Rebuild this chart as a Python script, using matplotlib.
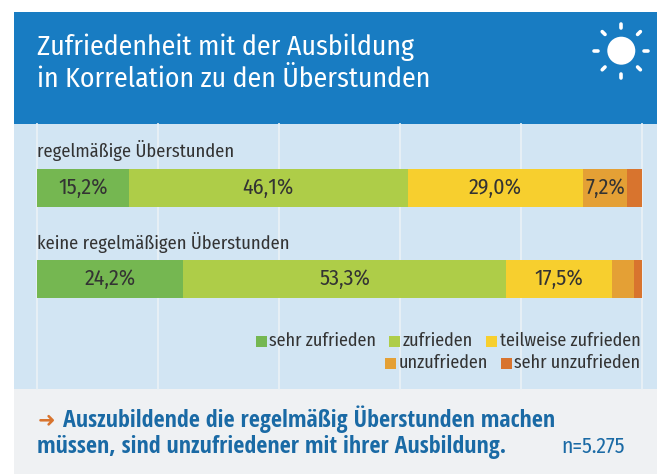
import numpy as np
import matplotlib
matplotlib.use('Agg')
import matplotlib.pyplot as plt
from matplotlib.patches import Rectangle, Circle
from matplotlib import font_manager as fm

available = set(f.name for f in fm.fontManager.ttflist)
regular_fonts = ['Fira Sans Condensed', 'PT Sans Narrow', 'Roboto Condensed',
                 'Liberation Sans Narrow', 'Open Sans', 'DejaVu Sans']
bold_fonts = ['Open Sans Condensed'] + regular_fonts
plt.rcParams['font.family'] = [c for c in regular_fonts if c in available]
bold_family = [c for c in bold_fonts if c in available]

title_lines = ['Zufriedenheit mit der Ausbildung', 'in Korrelation zu den Überstunden']
groups = ['regelmäßige Überstunden', 'keine regelmäßigen Überstunden']
levels = ['sehr zufrieden', 'zufrieden', 'teilweise zufrieden', 'unzufrieden', 'sehr unzufrieden']
row_regular = [15.2, 46.1, 29.0, 7.2, 2.5]
row_none = [24.2, 53.3, 17.5, 3.7, 1.3]
labels_regular = ['15,2%', '46,1%', '29,0%', '7,2%', '']
labels_none = ['24,2%', '53,3%', '17,5%', '', '']
grid_ticks = [0, 20, 40, 60, 80, 100]
takeaway = ['Auszubildende die regelmäßig Überstunden machen',
            'müssen, sind unzufriedener mit ihrer Ausbildung.']
sample = 'n=5.275'

colors = ['#75b751', '#aecd48', '#f7cf2e', '#e4a035', '#d8742e']
HEADER = '#187cc2'
PANEL = '#d2e5f3'
FOOT = '#eff1f3'
DARK = '#333333'
BLUE = '#1a6aa5'

W, H = 657, 474
fig = plt.figure(figsize=(W / 100, H / 100), dpi=100)


def pixel_axes(z):
    # whole figure in pixel coordinates
    a = fig.add_axes([0, 0, 1, 1], zorder=z)
    a.set_xlim(0, W)
    a.set_ylim(H, 0)
    a.axis('off')
    return a


bg = pixel_axes(0)
bg.add_patch(Rectangle((14, 12), W - 14, 112, color=HEADER, lw=0))
bg.add_patch(Rectangle((14, 124), W - 14, 265, color=PANEL, lw=0))
bg.add_patch(Rectangle((14, 389), W - 14, 85, color=FOOT, lw=0))

# bars, x is the percentage scale
ax = fig.add_axes([37 / W, 1 - 389 / H, 605 / W, 265 / H], zorder=1)
ax.set_xlim(0, 100)
ax.set_ylim(389, 124)
ax.axis('off')
for t in grid_ticks:
    ax.plot([t, t], [124, 389], color='#e9f1f6', lw=1.3, zorder=1, clip_on=False)

for y, vals, labs in [(188, row_regular, labels_regular), (279, row_none, labels_none)]:
    left = 0
    for v, c, lab in zip(vals, colors, labs):
        ax.barh(y, v, left=left, height=38, color=c, lw=0, zorder=2)
        if lab:
            ax.text(left + v / 2, y, lab, ha='center', va='center', color=DARK,
                    fontsize=15.8, zorder=3)
        left += v

fg = pixel_axes(2)
fg.text(37, 55, title_lines[0], color='white', fontsize=20, va='baseline')
fg.text(37, 87, title_lines[1], color='white', fontsize=20, va='baseline')

# sun icon
cx, cy = 621.3, 50.7
fg.add_patch(Circle((cx, cy), 14, color='white', lw=0))
for a in np.arange(0, 360, 45):
    dx, dy = np.cos(np.radians(a)), np.sin(np.radians(a))
    fg.plot([cx + 23 * dx, cx + 27 * dx], [cy + 23 * dy, cy + 27 * dy],
            color='white', lw=2.6, solid_capstyle='round')

fg.text(37, 157, groups[0], color=DARK, fontsize=13.3, va='baseline')
fg.text(37, 249, groups[1], color=DARK, fontsize=13.3, va='baseline')

# legend, right aligned in two rows
legend_pos = [(255.5, 269, 346), (389, 403, 346), (486, 500, 346), (384.5, 399, 368), (500.5, 514.5, 368)]
for name, c, (sx, tx, base) in zip(levels, colors, legend_pos):
    fg.add_patch(Rectangle((sx, base - 10.5), 11, 11, color=c, lw=0))
    fg.text(tx, base, name, color=DARK, fontsize=13, va='baseline')

# takeaway
fg.text(38, 426, '➜', color='#d8742e', fontsize=15, fontweight='bold', va='baseline', family='DejaVu Sans')
fg.text(63, 427, takeaway[0], color=BLUE, fontsize=17.3, fontweight='bold', va='baseline', family=bold_family)
fg.text(37, 453, takeaway[1], color=BLUE, fontsize=17.3, fontweight='bold', va='baseline', family=bold_family)
fg.text(561, 453, sample, color=BLUE, fontsize=15.5, va='baseline')

fig.savefig('out.png', dpi=100)
